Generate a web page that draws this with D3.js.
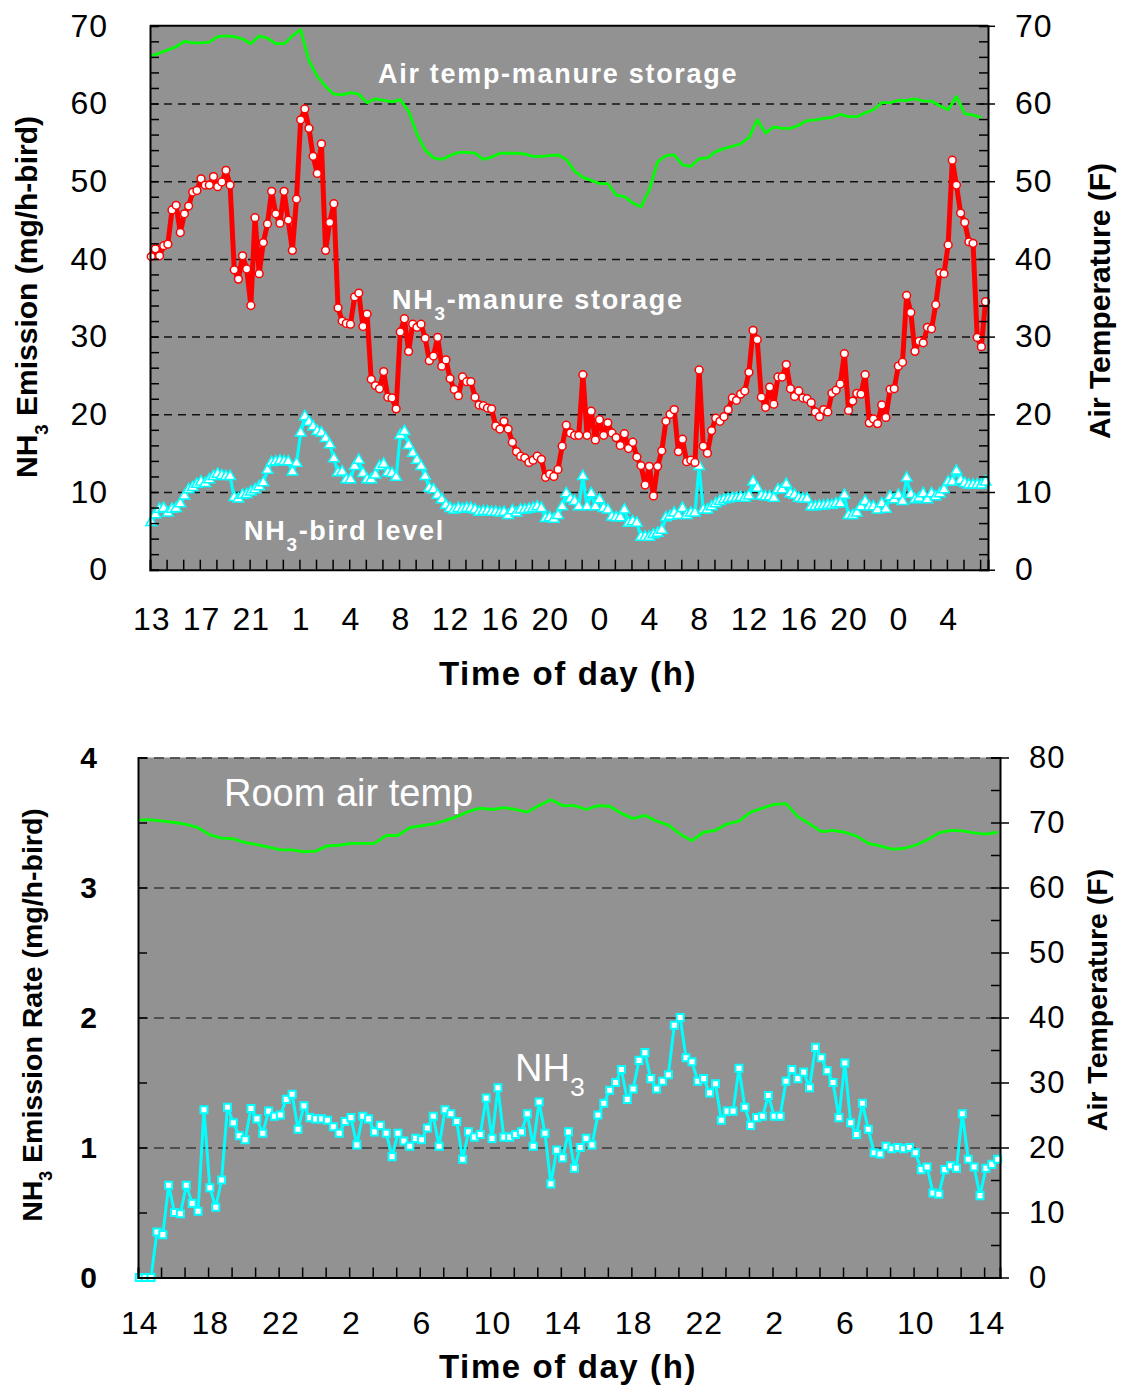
<!DOCTYPE html>
<html>
<head>
<meta charset="utf-8">
<script src="https://cdn.jsdelivr.net/npm/d3@7"></script>
<style>
  body { margin: 0; background: #fff; }
  svg text { font-family: Arial, "Liberation Sans", sans-serif; }
</style>
</head>
<body>
<svg id="chart" width="1122" height="1385"></svg>
<script>
// ---- top panel: manure storage vs bird level (one sample every 20 min) ----
const topHourLabels = ['13', '17', '21', '1', '4', '8', '12', '16', '20', '0', '4', '8', '12', '16', '20', '0', '4'];

const nh3Manure = [
    40.3, 41.3, 40.4, 41.7, 41.9, 46.3, 46.9, 43.4, 45.8, 46.8,
    48.6, 48.8, 50.3, 49.5, 49.5, 50.6, 49.3, 49.9, 51.4, 49.5,
    38.6, 37.4, 40.4, 38.7, 34.0, 45.3, 38.1, 42.1, 44.5, 48.7,
    45.8, 44.6, 48.7, 45.0, 41.1, 47.7, 57.9, 59.3, 56.8, 53.2,
    51.0, 54.8, 41.1, 44.7, 47.1, 33.7, 32.0, 31.7, 31.6, 35.1,
    35.6, 31.3, 32.9, 24.5, 23.7, 23.3, 25.5, 22.2, 22.1, 20.7,
    30.6, 32.3, 28.1, 31.6, 31.2, 31.6, 29.8, 26.9, 27.5, 29.9,
    26.2, 27.0, 24.6, 23.2, 22.4, 24.8, 24.2, 24.2, 22.2, 21.2,
    21.1, 20.8, 20.7, 18.5, 18.1, 19.1, 18.1, 16.4, 15.2, 14.6,
    14.4, 13.8, 14.1, 14.6, 14.2, 11.9, 12.3, 12.0, 12.9, 15.9,
    18.6, 17.6, 17.3, 17.3, 25.1, 17.3, 20.4, 16.7, 19.3, 17.3,
    18.9, 17.6, 17.0, 16.0, 17.5, 15.6, 16.4, 14.5, 13.4, 10.9,
    13.3, 9.5, 13.3, 15.3, 19.1, 20.0, 20.6, 15.2, 16.8, 13.9,
    14.1, 13.8, 25.7, 15.9, 15.0, 17.9, 19.5, 19.1, 19.7, 20.6,
    22.1, 21.8, 22.6, 23.0, 25.4, 30.8, 29.6, 22.2, 20.9, 23.5,
    21.3, 24.8, 24.8, 26.4, 23.3, 22.3, 23.0, 22.1, 22.0, 21.5,
    20.3, 19.7, 20.6, 20.3, 22.7, 23.1, 23.9, 27.8, 20.5, 21.7,
    22.7, 22.6, 25.1, 18.9, 19.4, 18.8, 21.2, 19.6, 23.2, 23.3,
    26.2, 26.7, 35.3, 33.1, 28.1, 29.4, 29.2, 31.2, 31.0, 34.1,
    38.2, 38.1, 41.8, 52.7, 49.5, 45.9, 44.7, 42.2, 42.0, 29.9,
    28.7, 34.5
];

const nh3BirdLevel = [
    6.1, 7.1, 7.8, 7.9, 7.3, 7.8, 7.9, 8.5, 9.5, 10.3,
    10.6, 11.0, 11.3, 11.1, 11.6, 12.0, 12.3, 12.1, 12.0, 12.0,
    9.3, 9.1, 9.6, 9.7, 10.0, 10.3, 10.7, 11.2, 12.8, 13.8,
    13.9, 14.0, 13.9, 13.9, 12.6, 13.7, 17.6, 19.7, 19.0, 18.4,
    17.8, 17.6, 16.9, 16.1, 14.3, 12.5, 12.6, 11.6, 11.6, 13.3,
    14.1, 12.4, 11.6, 11.6, 12.2, 13.3, 13.6, 12.5, 12.4, 11.9,
    17.3, 17.8, 16.0, 15.0, 14.1, 13.3, 12.0, 10.5, 10.3, 9.6,
    9.0, 8.3, 7.9, 7.7, 7.9, 7.8, 7.9, 7.9, 7.7, 7.4,
    7.5, 7.5, 7.4, 7.4, 7.3, 7.4, 7.0, 7.6, 7.3, 7.7,
    7.7, 7.8, 7.9, 8.1, 7.9, 6.6, 6.7, 6.5, 7.0, 8.1,
    9.8, 9.1, 8.8, 8.1, 12.0, 8.1, 9.8, 8.1, 9.0, 7.9,
    7.7, 6.8, 6.7, 6.7, 7.7, 6.0, 6.2, 6.0, 4.2, 4.2,
    4.2, 4.5, 4.7, 5.1, 6.7, 6.9, 7.3, 7.0, 7.9, 7.0,
    7.3, 7.3, 13.3, 7.7, 7.7, 8.1, 8.5, 8.8, 9.0, 9.1,
    9.2, 9.2, 9.3, 9.2, 9.5, 11.3, 10.5, 9.5, 9.4, 9.4,
    9.2, 10.3, 10.3, 11.0, 9.8, 9.6, 9.2, 9.1, 9.1, 8.1,
    8.1, 8.2, 8.2, 8.3, 8.3, 8.5, 8.5, 9.6, 7.0, 7.0,
    7.3, 8.1, 8.8, 8.1, 8.1, 7.7, 8.5, 7.8, 9.4, 9.0,
    9.6, 8.8, 11.8, 9.7, 9.0, 9.2, 9.8, 9.0, 9.8, 9.4,
    9.8, 10.3, 11.3, 11.3, 12.7, 11.5, 11.1, 10.9, 10.9, 10.9,
    10.9, 11.3
];

// air temp at the manure storage, every second sample (F)
const airTempManure = [
    66.1, 66.5, 66.9, 67.3, 68.0, 67.8, 67.8, 67.9, 68.6, 68.7,
    68.6, 68.3, 67.7, 68.7, 68.4, 67.7, 67.7, 68.7, 69.5, 65.5,
    63.5, 62.2, 61.2, 61.1, 61.4, 61.2, 60.1, 60.6, 60.4, 60.2,
    60.5, 59.0, 56.1, 54.0, 53.0, 52.8, 53.3, 53.7, 53.7, 53.6,
    52.8, 53.1, 53.6, 53.6, 53.6, 53.5, 53.2, 53.2, 53.3, 53.4,
    52.8, 51.3, 50.5, 50.1, 49.7, 49.7, 48.2, 48.0, 47.2, 46.7,
    48.9, 52.5, 53.3, 53.4, 52.1, 51.9, 52.9, 53.0, 53.8, 54.2,
    54.5, 54.8, 55.6, 57.9, 56.2, 57.0, 56.8, 56.8, 57.2, 57.8,
    57.9, 58.1, 58.2, 58.6, 58.3, 58.3, 58.8, 59.2, 60.1, 60.1,
    60.4, 60.4, 60.6, 60.3, 60.3, 59.7, 59.2, 60.9, 58.7, 58.5,
    58.2
];

// ---- bottom panel: room NH3 (one sample every 20 min) ----
const botHourLabels = ['14', '18', '22', '2', '6', '10', '14', '18', '22', '2', '6', '10', '14'];

const nh3Room = [
    0, 0, 0, 0.35, 0.33, 0.71, 0.50, 0.49, 0.71, 0.57,
    0.51, 1.29, 0.69, 0.54, 0.75, 1.31, 1.19, 1.09, 1.06, 1.30,
    1.22, 1.11, 1.28, 1.24, 1.25, 1.37, 1.41, 1.14, 1.32, 1.23,
    1.22, 1.22, 1.21, 1.16, 1.11, 1.20, 1.23, 1.02, 1.24, 1.22,
    1.12, 1.17, 1.11, 0.93, 1.11, 1.05, 1.01, 1.07, 1.06, 1.15,
    1.24, 1.01, 1.29, 1.26, 1.20, 0.91, 1.12, 1.08, 1.10, 1.38,
    1.07, 1.46, 1.08, 1.08, 1.10, 1.12, 1.26, 1.01, 1.35, 1.11,
    0.72, 0.98, 0.92, 1.12, 0.84, 1.00, 1.07, 1.02, 1.25, 1.34,
    1.44, 1.50, 1.60, 1.37, 1.45, 1.67, 1.73, 1.53, 1.45, 1.51,
    1.56, 1.94, 2.00, 1.69, 1.66, 1.51, 1.53, 1.42, 1.49, 1.21,
    1.28, 1.28, 1.61, 1.31, 1.17, 1.23, 1.24, 1.40, 1.24, 1.24,
    1.51, 1.60, 1.53, 1.58, 1.46, 1.77, 1.69, 1.59, 1.50, 1.23,
    1.65, 1.19, 1.10, 1.34, 1.14, 0.96, 0.95, 1.01, 0.99, 1.00,
    0.99, 1.00, 0.96, 0.83, 0.85, 0.65, 0.64, 0.83, 0.86, 0.84,
    1.26, 0.91, 0.85, 0.63, 0.84, 0.87, 0.91
];

// room air temp, every second sample (F)
const roomAirTemp = [
    70.4, 70.4, 70.2, 70.0, 69.7, 69.2, 68.1, 67.6, 67.5, 66.9,
    66.6, 66.2, 65.8, 65.8, 65.5, 65.6, 66.4, 66.5, 66.8, 66.8,
    66.8, 68.0, 68.0, 69.2, 69.5, 69.8, 70.3, 70.9, 71.7, 72.2,
    72.0, 72.3, 72.0, 71.6, 72.6, 73.5, 72.6, 72.6, 72.0, 72.6,
    72.5, 71.4, 70.6, 71.1, 70.2, 69.6, 68.2, 67.2, 68.5, 68.8,
    69.8, 70.2, 71.6, 72.2, 72.8, 72.9, 70.9, 69.8, 68.6, 68.8,
    68.5, 67.9, 66.8, 66.4, 65.9, 66.0, 66.5, 67.3, 68.4, 68.8,
    68.7, 68.4, 68.2, 68.5
];

const PLOT_BG = '#929292';
const RED = '#ff0000';
const CYAN = '#00ffff';
const GREEN = '#00ff00';

const svg = d3.select('#chart');

function styleAxis(g, opts) {
    g.select('.domain').attr('stroke', opts.domain ? '#000' : 'none').attr('stroke-width', 2);
    g.selectAll('.tick line').attr('stroke', '#000').attr('stroke-width', opts.tickWidth || 1.5);
    g.selectAll('.tick text')
        .attr('fill', '#000')
        .attr('font-size', opts.fontSize || 0)
        .attr('font-weight', opts.bold ? 'bold' : 'normal')
        .attr('letter-spacing', opts.spacing || 0);
}

function addAxis(x0, y0, axis, opts) {
    const g = svg.append('g').attr('transform', `translate(${x0},${y0})`).call(axis);
    styleAxis(g, opts);
    return g;
}

function addGrid(left, scale, values, width, dash, color) {
    const g = svg.append('g')
        .attr('transform', `translate(${left},0)`)
        .call(d3.axisLeft(scale).tickValues(values).tickSize(-width).tickFormat(''));
    g.select('.domain').remove();
    g.selectAll('.tick line')
        .attr('stroke', color)
        .attr('stroke-width', 1.5)
        .attr('stroke-dasharray', dash);
}

function addRotatedTitle(x, y, parts, size) {
    const t = svg.append('text')
        .attr('transform', `translate(${x},${y}) rotate(-90)`)
        .attr('text-anchor', 'middle')
        .attr('font-size', size)
        .attr('font-weight', 'bold')
        .attr('fill', '#000');
    parts.forEach(p => {
        const s = t.append('tspan').text(p.text);
        if (p.sub) s.attr('font-size', size * 0.62).attr('baseline-shift', 'sub');
    });
}

function addInlineLabel(x, y, parts, size, bold, spacing) {
    const t = svg.append('text')
        .attr('x', x).attr('y', y)
        .attr('font-size', size)
        .attr('font-weight', bold ? 'bold' : 'normal')
        .attr('letter-spacing', spacing || 0)
        .attr('fill', '#fff');
    parts.forEach(p => {
        const s = t.append('tspan').text(p.text);
        if (p.sub) s.attr('font-size', size * 0.7).attr('baseline-shift', 'sub');
    });
}

// ================= TOP PANEL =================
const tp = {left: 150, right: 988, top: 25.8, bottom: 569.7};
const xTop = d3.scaleLinear().domain([-0.3, 201.6]).range([tp.left, tp.right]);
const yTopL = d3.scaleLinear().domain([0, 70]).range([tp.bottom, tp.top]);
const yTopR = d3.scaleLinear().domain([0, 70]).range([tp.bottom, tp.top]);

svg.append('rect')
    .attr('x', tp.left).attr('y', tp.top)
    .attr('width', tp.right - tp.left).attr('height', tp.bottom - tp.top)
    .attr('fill', PLOT_BG);

addGrid(tp.left, yTopL, d3.range(10, 70, 10), tp.right - tp.left, '8,6', '#111');

// series
const lineTemp = d3.line().x((d, i) => xTop(i * 2)).y(d => yTopR(d));
svg.append('path').datum(airTempManure)
    .attr('d', lineTemp).attr('fill', 'none')
    .attr('stroke', GREEN).attr('stroke-width', 2.8).attr('stroke-linejoin', 'round');

const lineTop = d3.line().x((d, i) => xTop(i)).y(d => yTopL(d));
svg.append('path').datum(nh3BirdLevel)
    .attr('d', lineTop).attr('fill', 'none')
    .attr('stroke', CYAN).attr('stroke-width', 3.2).attr('stroke-linejoin', 'round');
svg.append('g').selectAll('path')
    .data(nh3BirdLevel)
    .join('path')
    .attr('transform', (d, i) => `translate(${xTop(i)},${yTopL(d)})`)
    .attr('d', d3.symbol(d3.symbolTriangle, 50))
    .attr('fill', '#fff').attr('stroke', CYAN).attr('stroke-width', 1.5);

svg.append('path').datum(nh3Manure)
    .attr('d', lineTop).attr('fill', 'none')
    .attr('stroke', RED).attr('stroke-width', 5).attr('stroke-linejoin', 'round');
svg.append('g').selectAll('circle')
    .data(nh3Manure)
    .join('circle')
    .attr('cx', (d, i) => xTop(i)).attr('cy', d => yTopL(d))
    .attr('r', 3.9)
    .attr('fill', '#fff').attr('stroke', RED).attr('stroke-width', 1.5);

// frame and axes
svg.append('line')
    .attr('x1', tp.left).attr('x2', tp.right).attr('y1', tp.top).attr('y2', tp.top)
    .attr('stroke', '#000').attr('stroke-width', 2);

addAxis(tp.left, 0, d3.axisLeft(yTopL).tickValues(d3.range(0, 71, 2)).tickSize(-9).tickFormat(''), {domain: true});
addAxis(tp.left, 0, d3.axisLeft(yTopL).tickValues(d3.range(0, 71, 10)).tickSize(0).tickPadding(42), {fontSize: 32, spacing: 1});
addAxis(tp.right, 0, d3.axisRight(yTopR).tickValues(d3.range(0, 71, 2)).tickSize(-9).tickFormat(''), {domain: true});
addAxis(tp.right, 0, d3.axisRight(yTopR).tickValues(d3.range(0, 71, 10)).tickSize(7).tickPadding(20), {fontSize: 32, spacing: 1});

addAxis(0, tp.bottom, d3.axisBottom(xTop).tickValues(d3.range(3.7, 201.6, 4)).tickSize(-10).tickFormat(''), {domain: true});
addAxis(0, tp.bottom, d3.axisBottom(xTop).tickValues(d3.range(0, 193, 12))
    .tickFormat((d, i) => topHourLabels[i]).tickSize(0).tickPadding(38), {fontSize: 32, spacing: 1});

svg.append('text')
    .attr('x', 568).attr('y', 685)
    .attr('text-anchor', 'middle')
    .attr('font-size', 33).attr('font-weight', 'bold').attr('letter-spacing', 1.6)
    .text('Time of day (h)');

addRotatedTitle(37, 297, [{text: 'NH'}, {text: '3', sub: true}, {text: ' Emission (mg/h-bird)'}], 30);
addRotatedTitle(1110, 301, [{text: 'Air Temperature (F)'}], 30);

addInlineLabel(378, 83, [{text: 'Air temp-manure storage'}], 27, true, 1.7);
addInlineLabel(392, 309, [{text: 'NH'}, {text: '3', sub: true}, {text: '-manure storage'}], 27, true, 1.7);
addInlineLabel(244, 540, [{text: 'NH'}, {text: '3', sub: true}, {text: '-bird level'}], 27, true, 1.7);

// ================= BOTTOM PANEL =================
const bp = {left: 138, right: 1000, top: 757.5, bottom: 1277.5};
const xBot = d3.scaleLinear().domain([-0.22, 146.4]).range([bp.left, bp.right]);
const yBotL = d3.scaleLinear().domain([0, 4]).range([bp.bottom, bp.top]);
const yBotR = d3.scaleLinear().domain([0, 80]).range([bp.bottom, bp.top]);

svg.append('rect')
    .attr('x', bp.left).attr('y', bp.top)
    .attr('width', bp.right - bp.left).attr('height', bp.bottom - bp.top)
    .attr('fill', PLOT_BG);

addGrid(bp.left, yBotL, [1, 2, 3, 4], bp.right - bp.left, '10,6', '#3a3a3a');

const lineRoomTemp = d3.line().x((d, i) => xBot(i * 2)).y(d => yBotR(d));
svg.append('path').datum(roomAirTemp)
    .attr('d', lineRoomTemp).attr('fill', 'none')
    .attr('stroke', GREEN).attr('stroke-width', 2.8).attr('stroke-linejoin', 'round');

const lineRoom = d3.line().x((d, i) => xBot(i)).y(d => yBotL(d));
svg.append('path').datum(nh3Room)
    .attr('d', lineRoom).attr('fill', 'none')
    .attr('stroke', CYAN).attr('stroke-width', 3).attr('stroke-linejoin', 'round');
svg.append('g').selectAll('path')
    .data(nh3Room)
    .join('path')
    .attr('transform', (d, i) => `translate(${xBot(i)},${yBotL(d)})`)
    .attr('d', d3.symbol(d3.symbolSquare, 50))
    .attr('fill', '#fff').attr('stroke', CYAN).attr('stroke-width', 2);

addAxis(bp.left, 0, d3.axisLeft(yBotL).tickValues(d3.range(0, 4.01, 0.5)).tickSize(-9).tickFormat(''), {domain: true});
addAxis(bp.left, 0, d3.axisLeft(yBotL).tickValues([0, 1, 2, 3, 4]).tickSize(0).tickPadding(41)
    .tickFormat(d3.format('d')), {fontSize: 30, bold: true});
addAxis(bp.right, 0, d3.axisRight(yBotR).tickValues(d3.range(0, 81, 5)).tickSize(-9).tickFormat(''), {domain: true});
addAxis(bp.right, 0, d3.axisRight(yBotR).tickValues(d3.range(0, 81, 10)).tickSize(9).tickPadding(20), {fontSize: 31, spacing: 1});

addAxis(0, bp.bottom, d3.axisBottom(xBot).tickValues(d3.range(3.7, 146.4, 4)).tickSize(-10).tickFormat(''), {domain: true});
addAxis(0, bp.bottom, d3.axisBottom(xBot).tickValues(d3.range(0, 145, 12))
    .tickFormat((d, i) => botHourLabels[i]).tickSize(0).tickPadding(34), {fontSize: 32, spacing: 1});

svg.append('text')
    .attr('x', 568).attr('y', 1378)
    .attr('text-anchor', 'middle')
    .attr('font-size', 33).attr('font-weight', 'bold').attr('letter-spacing', 1.6)
    .text('Time of day (h)');

addRotatedTitle(42, 1015, [{text: 'NH'}, {text: '3', sub: true}, {text: ' Emission Rate (mg/h-bird)'}], 28.5);
addRotatedTitle(1107, 1000, [{text: 'Air Temperature (F)'}], 28.5);

addInlineLabel(224, 806, [{text: 'Room air temp'}], 38, false, 0);
addInlineLabel(515, 1081, [{text: 'NH'}, {text: '3', sub: true}], 38, false, 0);
</script>
</body>
</html>
